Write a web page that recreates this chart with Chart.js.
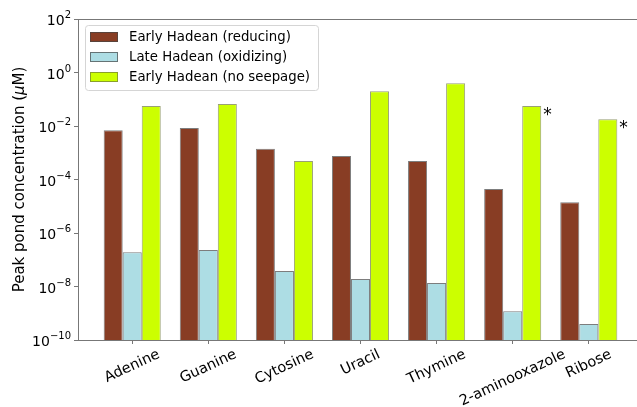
<!DOCTYPE html>
<html>
<head>
<meta charset="utf-8">
<script src="https://cdn.jsdelivr.net/npm/chart.js@4.4.0/dist/chart.umd.min.js"></script>
<style>
  html, body { margin: 0; padding: 0; background: #fff; overflow: hidden; }
</style>
</head>
<body>
<canvas id="pondChart" width="660" height="407"></canvas>
<script>
// molecules along the x axis
const molecules = ['Adenine', 'Guanine', 'Cytosine', 'Uracil', 'Thymine', '2-aminooxazole', 'Ribose'];
// peak pond concentrations (uM)
const earlyReducing = [7e-3, 8.5e-3, 1.4e-3, 7.6e-4, 4.9e-4, 4.4e-5, 1.4e-5];
const lateOxidizing = [1.9e-7, 2.3e-7, 3.8e-8, 1.9e-8, 1.35e-8, 1.2e-9, 4e-10];
const earlyNoSeepage = [0.056, 0.066, 4.9e-4, 0.2, 0.4, 0.056, 0.018];
// no-seepage bars that get an asterisk
const starred = ['2-aminooxazole', 'Ribose'];
// labelled decades on the y axis
const yTickExponents = [-10, -8, -6, -4, -2, 0, 2];

const FONT = "'DejaVu Sans', sans-serif";
const AXIS_COLOR = '#777';

const toPoints = arr => arr.map((v, i) => ({ x: i, y: v }));
const expText = e => String(e).replace('-', '\u2212');

// all the matplotlib-ish bits chart.js doesn't do on its own
const decorPlugin = {
    id: 'decor',
    afterDraw(chart) {
        const ctx = chart.ctx;
        const area = chart.chartArea;
        const xs = chart.scales.x;
        const ys = chart.scales.y;
        ctx.save();

        // spines
        ctx.strokeStyle = AXIS_COLOR;
        ctx.lineWidth = 1;
        ctx.strokeRect(Math.round(area.left) + 0.5, Math.round(area.top) + 0.5,
            Math.round(area.right - area.left), Math.round(area.bottom - area.top));

        ctx.fillStyle = '#000';

        // y tick labels as 10^n
        ctx.textBaseline = 'alphabetic';
        ctx.textAlign = 'left';
        yTickExponents.forEach(e => {
            const y = ys.getPixelForValue(Math.pow(10, e));
            ctx.font = '14px ' + FONT;
            const baseW = ctx.measureText('10').width;
            ctx.font = '10px ' + FONT;
            const expW = ctx.measureText(expText(e)).width;
            const x0 = area.left - 7 - baseW - expW;
            ctx.font = '14px ' + FONT;
            ctx.fillText('10', x0, y + 6);
            ctx.font = '10px ' + FONT;
            ctx.fillText(expText(e), x0 + baseW, y - 1);
        });

        // rotated category labels, centred under the ticks
        const rot = 25 * Math.PI / 180;
        ctx.font = '14.5px ' + FONT;
        ctx.textAlign = 'center';
        ctx.textBaseline = 'middle';
        molecules.forEach((m, i) => {
            const px = xs.getPixelForValue(i);
            const w = ctx.measureText(m).width;
            const h = 15;
            const boxH = w * Math.sin(rot) + h * Math.cos(rot);
            const cy = area.bottom + 7 + boxH / 2;
            ctx.save();
            ctx.translate(px, cy);
            ctx.rotate(-rot);
            ctx.fillText(m, 0, 0);
            ctx.restore();
        });

        // y axis title with italic mu
        const parts = [
            { t: 'Peak pond concentration (', f: '15px ' + FONT },
            { t: '\u03bc', f: 'italic 15px ' + FONT },
            { t: 'M)', f: '15px ' + FONT }
        ];
        let total = 0;
        parts.forEach(p => { ctx.font = p.f; p.w = ctx.measureText(p.t).width; total += p.w; });
        ctx.save();
        ctx.translate(20, (area.top + area.bottom) / 2);
        ctx.rotate(-Math.PI / 2);
        ctx.textAlign = 'left';
        ctx.textBaseline = 'middle';
        let cx = -total / 2;
        parts.forEach(p => { ctx.font = p.f; ctx.fillText(p.t, cx, 0); cx += p.w; });
        ctx.restore();

        // legend box, upper left inside the axes
        const lx = area.left + 7, ly = area.top + 6, lw = 233, lh = 65;
        ctx.beginPath();
        ctx.roundRect(lx + 0.5, ly + 0.5, lw, lh, 3);
        ctx.fillStyle = 'rgba(255,255,255,0.8)';
        ctx.fill();
        ctx.strokeStyle = '#d5d5d5';
        ctx.stroke();
        ctx.font = '13.3px ' + FONT;
        ctx.textAlign = 'left';
        ctx.textBaseline = 'middle';
        chart.data.datasets.forEach((ds, k) => {
            const ry = ly + 12 + k * 20;
            ctx.fillStyle = ds.backgroundColor;
            ctx.fillRect(lx + 5, ry - 5, 28, 10);
            ctx.strokeStyle = ds.borderColor;
            ctx.strokeRect(lx + 5.5, ry - 4.5, 27, 9);
            ctx.fillStyle = '#000';
            ctx.fillText(ds.label, lx + 44, ry + 1);
        });

        // asterisks beside the starred no-seepage bars
        const meta = chart.getDatasetMeta(2);
        ctx.font = '17px ' + FONT;
        ctx.textBaseline = 'alphabetic';
        starred.forEach(name => {
            const bar = meta.data[molecules.indexOf(name)];
            ctx.fillText('*', bar.x + bar.width / 2 + 2, bar.y + 14);
        });

        ctx.restore();
    }
};

const barEdge = 'rgba(70,70,70,0.7)';

new Chart(document.getElementById('pondChart').getContext('2d'), {
    type: 'bar',
    data: {
        datasets: [{
            label: 'Early Hadean (reducing)',
            data: toPoints(earlyReducing),
            backgroundColor: '#883d24',
            borderColor: barEdge,
            borderWidth: 1
        }, {
            label: 'Late Hadean (oxidizing)',
            data: toPoints(lateOxidizing),
            backgroundColor: '#addde4',
            borderColor: barEdge,
            borderWidth: 1
        }, {
            label: 'Early Hadean (no seepage)',
            data: toPoints(earlyNoSeepage),
            backgroundColor: '#ccff00',
            borderColor: 'rgba(110,120,60,0.7)',
            borderWidth: 1
        }]
    },
    options: {
        responsive: false,
        animation: false,
        categoryPercentage: 0.75,
        barPercentage: 1.0,
        layout: { padding: { left: 0, top: 19, right: 17, bottom: 0 } },
        plugins: { legend: { display: false }, tooltip: { enabled: false } },
        scales: {
            x: {
                type: 'linear',
                offset: false,
                min: -0.7125,
                max: 6.7125,
                afterBuildTicks: scale => { scale.ticks = molecules.map((m, i) => ({ value: i })); },
                afterFit: scale => { scale.height = 67; },
                ticks: { display: false },
                grid: { offset: false, drawOnChartArea: false, drawTicks: true, tickLength: 4, color: AXIS_COLOR },
                border: { display: false }
            },
            y: {
                type: 'logarithmic',
                min: 1e-10,
                max: 1e2,
                afterBuildTicks: scale => {
                    scale.ticks = yTickExponents.map(e => ({ value: Math.pow(10, e), major: true }));
                },
                afterFit: scale => { scale.width = 78; },
                ticks: { display: false },
                grid: { drawOnChartArea: false, drawTicks: true, tickLength: 4, color: AXIS_COLOR },
                border: { display: false }
            }
        }
    },
    plugins: [decorPlugin]
});
</script>
</body>
</html>
